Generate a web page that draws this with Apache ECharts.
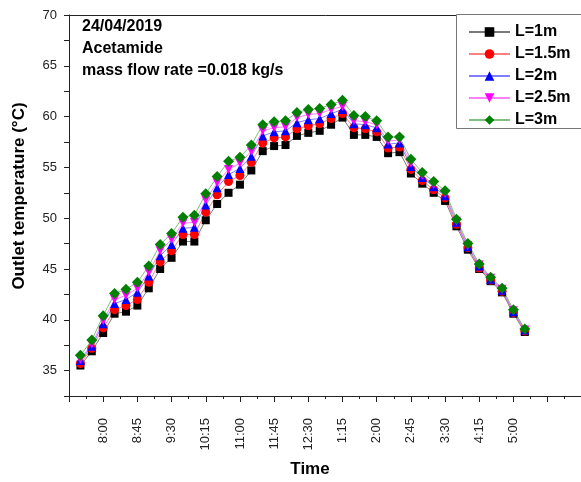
<!DOCTYPE html>
<html>
<head>
<meta charset="utf-8">
<script src="https://cdn.jsdelivr.net/npm/echarts@6/dist/echarts.min.js"></script>
<style>html,body{margin:0;padding:0;background:#fff;}#c{width:581px;height:482px;}</style>
</head>
<body>
<div id="c"></div>
<script>
// Measurement times (15-minute steps)
const times = ['7:30','7:45','8:00','8:15','8:30','8:45','9:00','9:15','9:30','9:45',
  '10:00','10:15','10:30','10:45','11:00','11:15','11:30','11:45','12:00','12:15',
  '12:30','12:45','1:00','1:15','1:30','1:45','2:00','2:15','2:30','2:45',
  '3:00','3:15','3:30','3:45','4:00','4:15','4:30','4:45','5:00','5:15'];
const tickLabels = ['8:00','8:45','9:30','10:15','11:00','11:45','12:30','1:15','2:00','2:45','3:30','4:15','5:00'];
const L1m = [35.5,36.9,38.7,40.6,40.8,41.4,43.1,45.0,46.1,47.7,
  47.7,49.8,51.4,52.5,53.3,54.7,56.6,57.1,57.2,58.1,
  58.4,58.6,59.2,59.9,58.2,58.2,58.0,56.4,56.5,54.4,
  53.4,52.5,51.7,49.2,46.9,45.0,43.8,42.7,40.6,38.8];
const L1_5m = [35.7,37.2,39.2,41.0,41.4,42.0,43.7,45.7,46.8,48.4,
  48.4,50.6,52.3,53.6,54.2,55.5,57.4,57.9,58.0,58.8,
  59.1,59.3,59.8,60.3,58.9,58.8,58.5,56.9,57.0,54.8,
  53.7,52.8,52.0,49.4,47.1,45.1,43.9,42.8,40.7,38.9];
const L2m = [36.0,37.4,39.6,41.6,42.0,42.7,44.3,46.3,47.4,49.0,
  49.1,51.3,53.0,54.3,54.9,56.1,58.1,58.5,58.6,59.4,
  59.7,59.8,60.3,60.7,59.3,59.2,58.9,57.3,57.4,55.1,
  54.0,53.1,52.2,49.6,47.2,45.3,44.0,42.9,40.8,39.0];
const L2_5m = [36.1,37.6,39.9,42.0,42.4,43.1,44.7,46.8,47.9,49.5,
  49.6,51.8,53.5,54.8,55.4,56.6,58.6,58.9,59.0,59.9,
  60.2,60.3,60.7,61.0,59.6,59.5,59.2,57.6,57.7,55.4,
  54.2,53.3,52.4,49.7,47.3,45.4,44.1,43.0,40.9,39.0];
const L3m = [36.5,38.0,40.4,42.6,43.0,43.7,45.3,47.4,48.5,50.1,
  50.3,52.4,54.1,55.6,56.0,57.2,59.2,59.5,59.6,60.4,
  60.7,60.8,61.2,61.6,60.1,60.0,59.6,58.0,58.0,55.8,
  54.5,53.6,52.7,49.9,47.5,45.5,44.2,43.1,41.0,39.1];

const FONT = "'Liberation Sans', Arial, sans-serif";
function pts(arr){ return arr.map((v,i)=>[i+1, v]); }

const seriesDefs = [
  {name:'L=1m', data:L1m, color:'#000000', line:'#7a7a7a', symbol:'rect', size:8, rot:0},
  {name:'L=1.5m', data:L1_5m, color:'#ff0000', line:'#ff8080', symbol:'circle', size:9, rot:0},
  {name:'L=2m', data:L2m, color:'#0000ff', line:'#8080ff', symbol:'triangle', size:9, rot:0},
  {name:'L=2.5m', data:L2_5m, color:'#ff00ff', line:'#ff80ff', symbol:'triangle', size:9, rot:180},
  {name:'L=3m', data:L3m, color:'#008000', line:'#80c080', symbol:'diamond', size:11, rot:0}
];

const chart = echarts.init(document.getElementById('c'), null, {renderer:'canvas'});
chart.setOption({
  animation:false,
  backgroundColor:'#fff',
  grid:{left:69, top:15, width:547, height:381, outerBoundsMode:'none', containLabel:false, show:false},
  xAxis:[{
    type:'value', min:0, max:48, interval:3,
    axisLine:{show:true, lineStyle:{color:'#222', width:1}},
    axisTick:{show:true, length:6, lineStyle:{color:'#222'}},
    minorTick:{show:true, splitNumber:2, length:3, lineStyle:{color:'#222'}},
    splitLine:{show:false},
    axisLabel:{
      rotate:90, margin:22, fontSize:13, color:'#222', fontFamily:FONT,
      showMinLabel:true, showMaxLabel:true,
      formatter:function(v){
        const k = (v-3)/3;
        if (Number.isInteger(k) && k>=0 && k<tickLabels.length) return tickLabels[k];
        return '';
      }
    }
  },{
    type:'value', position:'top', min:0, max:48,
    axisLine:{show:true, lineStyle:{color:'#222', width:1}},
    axisTick:{show:false}, axisLabel:{show:false}, splitLine:{show:false}
  }],
  yAxis:{
    type:'value', min:32.5, max:70, interval:2.5,
    axisLine:{show:true, lineStyle:{color:'#222', width:1}},
    axisTick:{show:true, length:5, lineStyle:{color:'#222'}},
    splitLine:{show:false},
    axisLabel:{
      margin:12, fontSize:13, color:'#222', fontFamily:FONT,
      formatter:function(v){ return (Math.abs(v%5)<1e-6) ? String(v) : ''; }
    }
  },
  legend:{
    orient:'vertical', left:456, top:15, z:20,
    padding:[9,10,6,12],
    itemWidth:41, itemHeight:12, itemGap:6,
    textStyle:{fontSize:16, fontWeight:'bold', color:'#000', fontFamily:FONT, lineHeight:16, padding:[0,0,0,0]},
    data:seriesDefs.map(s=>s.name)
  },
  graphic:[
    {type:'rect', shape:{x:456.5, y:14.5, width:160, height:114}, z:15, style:{fill:'#fff', stroke:'#777', lineWidth:1}},
    {type:'text', left:82, top:19, z:10, style:{text:'24/04/2019', font:"bold 16px "+FONT, fill:'#000'}},
    {type:'text', left:82, top:41, z:10, style:{text:'Acetamide', font:"bold 16px "+FONT, fill:'#000'}},
    {type:'text', left:82, top:63, z:10, style:{text:'mass flow rate =0.018 kg/s', font:"bold 16px "+FONT, fill:'#000'}},
    {type:'text', x:19, y:196, rotation:Math.PI/2, z:10, style:{text:'Outlet temperature (°C)', font:"bold 17px "+FONT, fill:'#000', align:'center', verticalAlign:'middle'}},
    {type:'text', x:310, y:469, z:10, style:{text:'Time', font:"bold 17px "+FONT, fill:'#000', align:'center', verticalAlign:'middle'}}
  ],
  series:seriesDefs.map(s=>({
    name:s.name, type:'line', data:pts(s.data), xAxisIndex:0,
    symbol:s.symbol, symbolSize:s.size, symbolRotate:s.rot, showSymbol:true,
    itemStyle:{color:s.color},
    lineStyle:{color:s.line, width:1},
    emphasis:{disabled:true}
  }))
});
</script>
</body>
</html>
